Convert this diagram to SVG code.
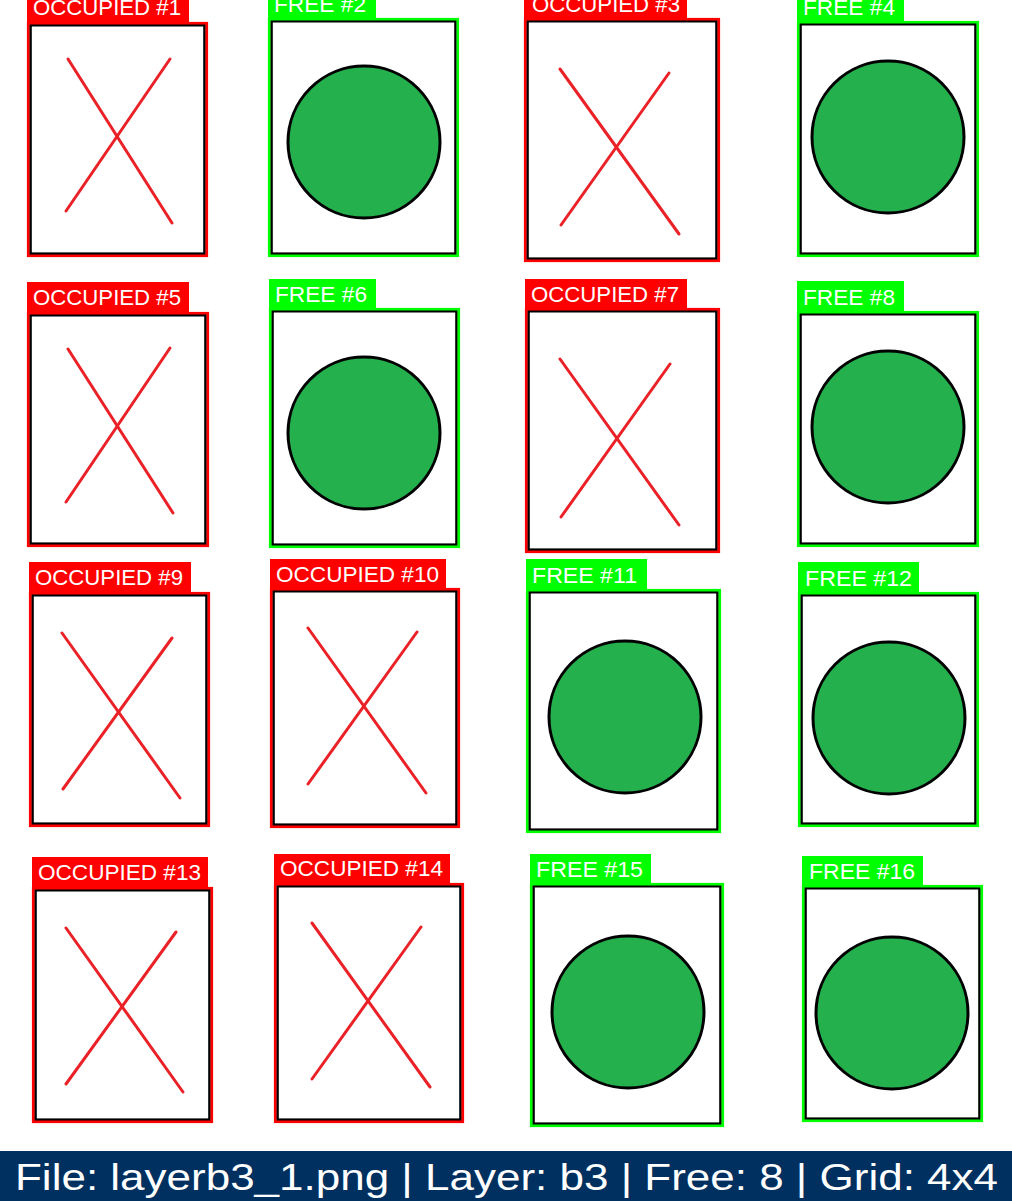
<svg xmlns="http://www.w3.org/2000/svg" width="1012" height="1201" viewBox="0 0 1012 1201">
<style>
.occ .lbl{fill:#FF0000}
.occ .frame{fill:none;stroke:#FF0000;stroke-width:2.6}
.fre .lbl{fill:#00FF00}
.fre .frame{fill:none;stroke:#00FF00;stroke-width:2.6}
.inner{fill:#FFFFFF;stroke:#000000;stroke-width:2.6}
.lt{fill:#FFFFFF;font-family:"Liberation Sans",Arial,sans-serif;font-size:22px}
.x{stroke:#EA2127;stroke-width:3;stroke-linecap:round}
.spot{fill:#25B04E;stroke:#000000;stroke-width:3}
.bar{fill:#00305F}
.bt{fill:#FFFFFF;font-family:"Liberation Sans",Arial,sans-serif;font-size:36px}
</style>
<rect x="0" y="0" width="1012" height="1201" fill="#FFFFFF"/>

<g id="cell1" class="occ" transform="translate(27,22)">
<rect class="inner" x="3.5" y="3.2" width="174" height="228.5"/>
<rect class="frame" x="1.2" y="1.2" width="178.6" height="232.6"/>
<rect class="lbl" x="0" y="-30" width="162" height="31"/>
<text class="lt" x="6" y="-7" textLength="148" lengthAdjust="spacingAndGlyphs">OCCUPIED #1</text>
<line class="x" x1="41" y1="37" x2="145" y2="201"/>
<line class="x" x1="143" y1="37" x2="39" y2="189"/>
</g>

<g id="cell2" class="fre" transform="translate(268,18)">
<rect class="inner" x="3.5" y="3.2" width="184" height="232.5"/>
<rect class="frame" x="1.2" y="1.2" width="188.6" height="236.6"/>
<rect class="lbl" x="0" y="-30" width="108" height="31"/>
<text class="lt" x="6" y="-6" textLength="92" lengthAdjust="spacingAndGlyphs">FREE #2</text>
<circle class="spot" cx="96" cy="124" r="76"/>
</g>

<g id="cell3" class="occ" transform="translate(524,18)">
<rect class="inner" x="3.5" y="3.2" width="189" height="237.5"/>
<rect class="frame" x="1.2" y="1.2" width="193.6" height="241.6"/>
<rect class="lbl" x="0" y="-30" width="163" height="31"/>
<text class="lt" x="8" y="-6" textLength="148" lengthAdjust="spacingAndGlyphs">OCCUPIED #3</text>
<line class="x" x1="36" y1="51" x2="155" y2="216"/>
<line class="x" x1="145" y1="55" x2="37" y2="207"/>
</g>

<g id="cell4" class="fre" transform="translate(797,21)">
<rect class="inner" x="3.5" y="3.2" width="175" height="229.5"/>
<rect class="frame" x="1.2" y="1.2" width="179.6" height="233.6"/>
<rect class="lbl" x="0" y="-30" width="107" height="31"/>
<text class="lt" x="6" y="-6" textLength="92" lengthAdjust="spacingAndGlyphs">FREE #4</text>
<circle class="spot" cx="91" cy="116" r="76"/>
</g>

<g id="cell5" class="occ" transform="translate(27,312)">
<rect class="inner" x="3.5" y="3.2" width="175" height="228.5"/>
<rect class="frame" x="1.2" y="1.2" width="179.6" height="232.6"/>
<rect class="lbl" x="0" y="-30" width="162" height="31"/>
<text class="lt" x="6" y="-7" textLength="148" lengthAdjust="spacingAndGlyphs">OCCUPIED #5</text>
<line class="x" x1="41" y1="37" x2="146" y2="201"/>
<line class="x" x1="143" y1="36" x2="39" y2="190"/>
</g>

<g id="cell6" class="fre" transform="translate(269,308)">
<rect class="inner" x="3.5" y="3.2" width="184" height="233.5"/>
<rect class="frame" x="1.2" y="1.2" width="188.6" height="237.6"/>
<rect class="lbl" x="0" y="-29" width="107" height="30"/>
<text class="lt" x="6" y="-6" textLength="92" lengthAdjust="spacingAndGlyphs">FREE #6</text>
<circle class="spot" cx="95" cy="125" r="76"/>
</g>

<g id="cell7" class="occ" transform="translate(525,308)">
<rect class="inner" x="3.5" y="3.2" width="188" height="238.5"/>
<rect class="frame" x="1.2" y="1.2" width="192.6" height="242.6"/>
<rect class="lbl" x="0" y="-29" width="162" height="30"/>
<text class="lt" x="6" y="-6" textLength="148" lengthAdjust="spacingAndGlyphs">OCCUPIED #7</text>
<line class="x" x1="35" y1="51" x2="154" y2="217"/>
<line class="x" x1="145" y1="56" x2="36" y2="209"/>
</g>

<g id="cell8" class="fre" transform="translate(797,311)">
<rect class="inner" x="3.5" y="3.2" width="175" height="229.5"/>
<rect class="frame" x="1.2" y="1.2" width="179.6" height="233.6"/>
<rect class="lbl" x="0" y="-30" width="107" height="31"/>
<text class="lt" x="6" y="-6" textLength="92" lengthAdjust="spacingAndGlyphs">FREE #8</text>
<circle class="spot" cx="91" cy="116" r="76"/>
</g>

<g id="cell9" class="occ" transform="translate(29,592)">
<rect class="inner" x="3.5" y="3.2" width="174" height="228.5"/>
<rect class="frame" x="1.2" y="1.2" width="178.6" height="232.6"/>
<rect class="lbl" x="0" y="-30" width="162" height="31"/>
<text class="lt" x="6" y="-7" textLength="148" lengthAdjust="spacingAndGlyphs">OCCUPIED #9</text>
<line class="x" x1="33" y1="41" x2="151" y2="206"/>
<line class="x" x1="143" y1="46" x2="34" y2="197"/>
</g>

<g id="cell10" class="occ" transform="translate(270,588)">
<rect class="inner" x="3.5" y="3.2" width="183" height="233.5"/>
<rect class="frame" x="1.2" y="1.2" width="187.6" height="237.6"/>
<rect class="lbl" x="0" y="-29" width="176" height="30"/>
<text class="lt" x="6" y="-6" textLength="163" lengthAdjust="spacingAndGlyphs">OCCUPIED #10</text>
<line class="x" x1="38" y1="40" x2="156" y2="205"/>
<line class="x" x1="147" y1="44" x2="38" y2="196"/>
</g>

<g id="cell11" class="fre" transform="translate(526,589)">
<rect class="inner" x="3.5" y="3.2" width="188" height="237.5"/>
<rect class="frame" x="1.2" y="1.2" width="192.6" height="241.6"/>
<rect class="lbl" x="0" y="-30" width="121" height="31"/>
<text class="lt" x="6" y="-6" textLength="105" lengthAdjust="spacingAndGlyphs">FREE #11</text>
<circle class="spot" cx="99" cy="128" r="76"/>
</g>

<g id="cell12" class="fre" transform="translate(798,592)">
<rect class="inner" x="3.5" y="3.2" width="174" height="228.5"/>
<rect class="frame" x="1.2" y="1.2" width="178.6" height="232.6"/>
<rect class="lbl" x="0" y="-30" width="121" height="31"/>
<text class="lt" x="7" y="-6" textLength="107" lengthAdjust="spacingAndGlyphs">FREE #12</text>
<circle class="spot" cx="91" cy="126" r="76"/>
</g>

<g id="cell13" class="occ" transform="translate(32,887)">
<rect class="inner" x="3.5" y="3.2" width="174" height="229.5"/>
<rect class="frame" x="1.2" y="1.2" width="178.6" height="233.6"/>
<rect class="lbl" x="0" y="-30" width="176" height="31"/>
<text class="lt" x="6" y="-7" textLength="163" lengthAdjust="spacingAndGlyphs">OCCUPIED #13</text>
<line class="x" x1="34" y1="41" x2="151" y2="205"/>
<line class="x" x1="144" y1="45" x2="34" y2="197"/>
</g>

<g id="cell14" class="occ" transform="translate(274,883)">
<rect class="inner" x="3.5" y="3.2" width="183" height="233.5"/>
<rect class="frame" x="1.2" y="1.2" width="187.6" height="237.6"/>
<rect class="lbl" x="0" y="-29" width="176" height="30"/>
<text class="lt" x="6" y="-7" textLength="163" lengthAdjust="spacingAndGlyphs">OCCUPIED #14</text>
<line class="x" x1="38" y1="40" x2="156" y2="204"/>
<line class="x" x1="147" y1="44" x2="38" y2="196"/>
</g>

<g id="cell15" class="fre" transform="translate(530,883)">
<rect class="inner" x="3.5" y="3.2" width="187" height="237.5"/>
<rect class="frame" x="1.2" y="1.2" width="191.6" height="241.6"/>
<rect class="lbl" x="0" y="-29" width="121" height="30"/>
<text class="lt" x="6" y="-6" textLength="107" lengthAdjust="spacingAndGlyphs">FREE #15</text>
<circle class="spot" cx="98" cy="129" r="76"/>
</g>

<g id="cell16" class="fre" transform="translate(802,885)">
<rect class="inner" x="3.5" y="3.2" width="174" height="230.5"/>
<rect class="frame" x="1.2" y="1.2" width="178.6" height="234.6"/>
<rect class="lbl" x="0" y="-29" width="121" height="30"/>
<text class="lt" x="7" y="-6" textLength="106" lengthAdjust="spacingAndGlyphs">FREE #16</text>
<circle class="spot" cx="90" cy="128" r="76"/>
</g>

<g id="connectors"></g>

<g id="statusbar">
<rect class="bar" x="0" y="1151" width="1012" height="50"/>
<text class="bt" x="15" y="1190" textLength="983" lengthAdjust="spacingAndGlyphs">File: layerb3_1.png | Layer: b3 | Free: 8 | Grid: 4x4</text>
</g>
</svg>
